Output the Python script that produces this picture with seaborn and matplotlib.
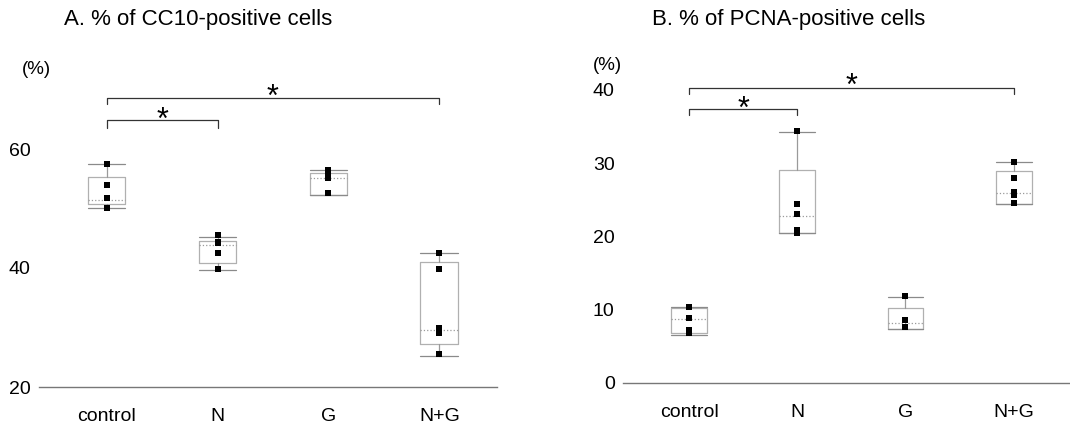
import pandas as pd
import matplotlib
matplotlib.use("Agg")
import matplotlib.pyplot as plt
import seaborn as sns

# data
groups = ["control", "N", "G", "N+G"]

# A. % of CC10-positive cells
cc10_points = {
    "control": [57.5, 54.0, 51.7, 50.1],
    "N": [45.6, 44.4, 44.2, 42.5, 39.9],
    "G": [56.4, 55.4, 55.2, 52.6],
    "N+G": [42.6, 39.9, 29.9, 29.1, 25.5],
}
cc10_q1 = [50.7, 40.9, 52.3, 27.2]
cc10_med = [51.4, 43.9, 55.2, 29.6]
cc10_q3 = [55.3, 44.6, 55.9, 41.0]
cc10_lo = [50.1, 39.6, 52.3, 25.2]
cc10_hi = [57.5, 45.2, 56.4, 42.6]

# B. % of PCNA-positive cells
pcna_points = {
    "control": [10.4, 8.9, 7.2, 6.75],
    "N": [34.4, 24.4, 23.0, 20.9, 20.5],
    "G": [11.9, 8.5, 7.65],
    "N+G": [30.2, 27.9, 26.0, 25.7, 24.6],
}
pcna_q1 = [6.8, 20.4, 7.4, 24.4]
pcna_med = [8.7, 22.8, 8.1, 25.9]
pcna_q3 = [10.2, 29.1, 10.2, 28.9]
pcna_lo = [6.5, 20.4, 7.3, 24.4]
pcna_hi = [10.4, 34.2, 11.7, 30.2]


def long_df(points):
    rows = [(g, v) for g in groups for v in points[g]]
    return pd.DataFrame(rows, columns=["group", "value"])


sns.set_style("white")
plt.rcParams["font.family"] = ["Liberation Sans", "DejaVu Sans"]
plt.rcParams["text.color"] = "black"
plt.rcParams["xtick.labelcolor"] = "black"
plt.rcParams["ytick.labelcolor"] = "black"

fig = plt.figure(figsize=(10.7, 4.24), dpi=100)
W, H = 1070, 424
axA = fig.add_axes([39 / W, 37 / H, (497 - 39) / W, (387 - 59.75) / H])
axB = fig.add_axes([623 / W, 41.3 / H, (1070 - 623) / W, (382.7 - 53.3) / H])


def draw_panel(ax, points, q1, med, q3, lo, hi, ylim, yticks, width):
    stats = [dict(q1=q1[i], med=med[i], q3=q3[i], whislo=lo[i], whishi=hi[i], fliers=[])
             for i in range(len(groups))]
    ax.bxp(stats, positions=range(len(groups)), widths=width, capwidths=width,
           showfliers=False, manage_ticks=False,
           boxprops=dict(color="#b0b0b0", lw=0.9),
           whiskerprops=dict(color="#9a9a9a", lw=0.9),
           capprops=dict(color="#8a8a8a", lw=0.9),
           medianprops=dict(color="#9a9a9a", lw=0.9, ls=":"))
    sns.stripplot(data=long_df(points), x="group", y="value", order=groups,
                  jitter=False, marker="s", size=5, color="black", ax=ax, zorder=3)
    ax.set_xlim(-0.61, 3.52)
    ax.set_ylim(*ylim)
    ax.set_yticks(yticks)
    ax.set_xlabel("")
    ax.set_ylabel("")
    for s in ["top", "right", "left"]:
        ax.spines[s].set_visible(False)
    ax.spines["bottom"].set_color("#777777")
    ax.spines["bottom"].set_linewidth(1.0)
    ax.tick_params(axis="y", direction="in", length=8, color="#bbbbbb", labelsize=14, pad=6)
    ax.tick_params(axis="x", which="major", length=0, labelsize=14, pad=15)
    ax.set_xticks([0.5, 1.5, 2.5], minor=True)
    ax.tick_params(axis="x", which="minor", direction="out", length=6, color="#999999")


def bracket(ax, x0, x1, y, drop, label_y):
    ax.plot([x0, x0, x1, x1], [y - drop, y, y, y - drop], color="#333333", lw=0.9, clip_on=False)
    ax.text((x0 + x1) / 2, label_y, "*", ha="center", va="center", fontsize=22, clip_on=False)


draw_panel(axA, cc10_points, cc10_q1, cc10_med, cc10_q3, cc10_lo, cc10_hi,
           (20, 75), [20, 40, 60], 0.34)
draw_panel(axB, pcna_points, pcna_q1, pcna_med, pcna_q3, pcna_lo, pcna_hi,
           (0, 45), [0, 10, 20, 30, 40], 0.33)

bracket(axA, 0, 3, 68.5, 1.0, 68.6)
bracket(axA, 0, 1, 64.8, 1.2, 64.8)
bracket(axB, 0, 3, 40.3, 0.8, 40.4)
bracket(axB, 0, 1, 37.4, 0.8, 37.3)

fig.text(64 / W, 1 - 20 / H, "A. % of CC10-positive cells", fontsize=16, va="center", ha="left")
fig.text(652 / W, 1 - 20 / H, "B. % of PCNA-positive cells", fontsize=16, va="center", ha="left")
fig.text(22 / W, 1 - 70 / H, "(%)", fontsize=13.5, va="center", ha="left")
fig.text(593 / W, 1 - 65 / H, "(%)", fontsize=13.5, va="center", ha="left")

fig.savefig("out.png", dpi=100)
